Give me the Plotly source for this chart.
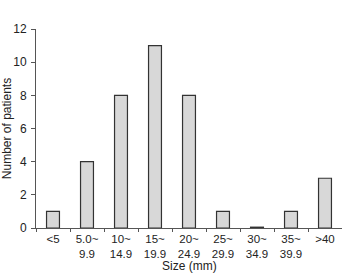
import plotly.graph_objects as go

categories = ["<5", "5.0~<br>9.9", "10~<br>14.9", "15~<br>19.9", "20~<br>24.9",
              "25~<br>29.9", "30~<br>34.9", "35~<br>39.9", ">40"]
patients = [1, 4, 8, 11, 8, 1, 0.05, 1, 3]

fig = go.Figure(go.Bar(
    x=categories, y=patients, width=0.38,
    marker=dict(color="#d8d8d8", line=dict(color="#333333", width=1.2)),
))
font = dict(family="Liberation Sans, Arial, sans-serif", size=12, color="#222222")
xfont = dict(family="Liberation Sans, Arial, sans-serif", size=11.5, color="#222222")
fig.update_layout(
    width=342, height=274, margin=dict(l=36, r=0, t=29, b=46),
    paper_bgcolor="white", plot_bgcolor="white", font=font, showlegend=False,
)
fig.update_xaxes(
    showline=True, linecolor="#555555", linewidth=1, ticks="outside", tickson="boundaries",
    ticklen=3, tickcolor="#555555", showgrid=False, tickfont=xfont,
)
fig.update_yaxes(
    range=[0, 12], dtick=2, showline=True, linecolor="#555555", linewidth=1,
    ticks="outside", ticklen=4, tickcolor="#555555", showgrid=False, zeroline=False,
    tickfont=font, ticklabelstandoff=2,
    title=dict(text="Number of patients", font=font, standoff=4),
)
fig.add_annotation(
    text="Size (mm)", xref="paper", yref="paper", x=0.5, y=0,
    xanchor="center", yanchor="top", yshift=-29, showarrow=False, font=font,
)
fig.write_html("out.html")
